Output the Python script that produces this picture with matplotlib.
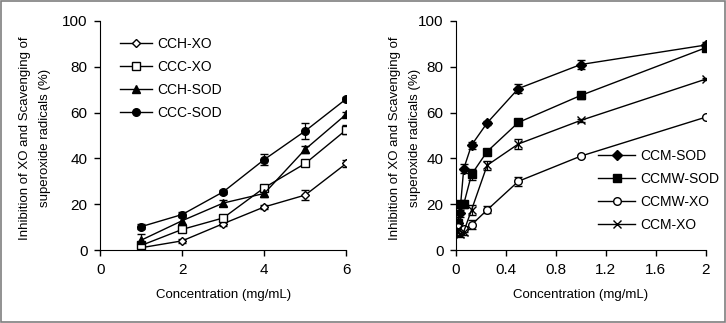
import matplotlib
matplotlib.use("Agg")
import matplotlib.pyplot as plt
from matplotlib.lines import Line2D
from matplotlib.patches import Rectangle

plt.rcParams["font.family"] = ["Liberation Sans", "DejaVu Sans"]

# Panel A
conc_a = [1, 2, 3, 4, 5, 6]
cch_xo = [1, 4, 11.5, 18.8, 24, 37.8]
cch_xo_err = [1, 1, 1, 1, 2, 1.5]
ccc_xo = [2, 9, 14, 27.2, 37.8, 52.5]
ccc_xo_err = [1, 1, 1, 1, 1, 2]
cch_sod = [4.3, 12.8, 20.5, 24.7, 44, 59.3]
cch_sod_err = [2.5, 1.5, 1.5, 1.5, 1.5, 1]
ccc_sod = [10.2, 15.5, 25.4, 39.5, 52, 66]
ccc_sod_err = [1, 1, 1, 2.5, 3.5, 1]

# Panel B
conc_b = [0.0078, 0.0156, 0.03125, 0.0625, 0.125, 0.25, 0.5, 1, 2]
ccm_sod = [10, 12, 16, 35.5, 45.8, 55.5, 70.5, 81, 89.5]
ccm_sod_err = [1, 1, 1.5, 2, 1.5, 1, 2, 2, 1.5]
ccmw_sod = [8, 12, 20, 20, 33, 43, 55.7, 67.5, 88.3]
ccmw_sod_err = [1, 1, 1.5, 1.5, 2.5, 1, 1, 1.5, 1.5]
ccmw_xo = [9, 10, 8, 9, 11, 17.5, 30, 41, 58]
ccmw_xo_err = [1, 1, 1, 1, 2, 1.5, 2, 0.5, 0.5]
ccm_xo = [8, 9, 7, 8, 17.5, 37, 46.3, 56.6, 74.6]
ccm_xo_err = [1, 1, 1.5, 1.5, 2, 2, 2, 0.5, 0.5]

ylabel = "Inhibition of XO and Scavenging of\nsuperoxide radicals (%)"

fig = plt.figure(figsize=(7.26, 3.23), dpi=100)
fig.patches.append(Rectangle((0.001, 0.002), 0.997, 0.995, transform=fig.transFigure,
                             fill=False, edgecolor="#7f7f7f", linewidth=1.2))

ax1 = fig.add_axes([0.138, 0.226, 0.339, 0.709])
ax2 = fig.add_axes([0.628, 0.226, 0.344, 0.709])


def draw(ax, x, y, err, marker, face, label, ms=5.5):
    ax.errorbar(x, y, yerr=err, color="black", linewidth=1, elinewidth=0.9,
                capsize=3, capthick=0.9, marker=marker, markersize=ms,
                markerfacecolor=face, markeredgecolor="black", markeredgewidth=1)
    return Line2D([], [], color="black", linewidth=1, marker=marker, markersize=ms,
                  markerfacecolor=face, markeredgecolor="black", label=label)


h1 = [
    draw(ax1, conc_a, cch_xo, cch_xo_err, "D", "white", "CCH-XO", 4.5),
    draw(ax1, conc_a, ccc_xo, ccc_xo_err, "s", "white", "CCC-XO"),
    draw(ax1, conc_a, cch_sod, cch_sod_err, "^", "black", "CCH-SOD"),
    draw(ax1, conc_a, ccc_sod, ccc_sod_err, "o", "black", "CCC-SOD"),
]
h2 = [
    draw(ax2, conc_b, ccm_sod, ccm_sod_err, "D", "black", "CCM-SOD", 5),
    draw(ax2, conc_b, ccmw_sod, ccmw_sod_err, "s", "black", "CCMW-SOD"),
    draw(ax2, conc_b, ccmw_xo, ccmw_xo_err, "o", "white", "CCMW-XO"),
    draw(ax2, conc_b, ccm_xo, ccm_xo_err, "x", "black", "CCM-XO"),
]

ax1.set_xlim(0, 6)
ax1.set_xticks([0, 2, 4, 6])
ax2.set_xlim(0, 2)
ax2.set_xticks([0, 0.4, 0.8, 1.2, 1.6, 2])
ax2.set_xticklabels(["0", "0.4", "0.8", "1.2", "1.6", "2"])

for ax in (ax1, ax2):
    ax.set_ylim(0, 100)
    ax.set_yticks(range(0, 101, 20))
    ax.spines["top"].set_visible(False)
    ax.spines["right"].set_visible(False)
    ax.tick_params(direction="out", length=4, width=1, labelsize=11, pad=5)
    ax.set_xlabel("Concentration (mg/mL)", fontsize=9.5, labelpad=9)
    ax.set_ylabel(ylabel, fontsize=9.5, linespacing=1.9)

# ylabel anchor is the right edge of the text block
ax1.yaxis.set_label_coords(-0.199, 0.49)
ax2.yaxis.set_label_coords(-0.14, 0.49)

leg_kw = dict(loc="upper left", frameon=False, fontsize=10, borderpad=0,
              borderaxespad=0, labelspacing=0.65, handletextpad=0.35)
ax1.legend(handles=h1, bbox_to_anchor=(0.081, 0.93), handlelength=2.3, **leg_kw)
ax2.legend(handles=h2, bbox_to_anchor=(0.568, 0.44), handlelength=2.7, **leg_kw)

fig.savefig("out.png", dpi=100)
